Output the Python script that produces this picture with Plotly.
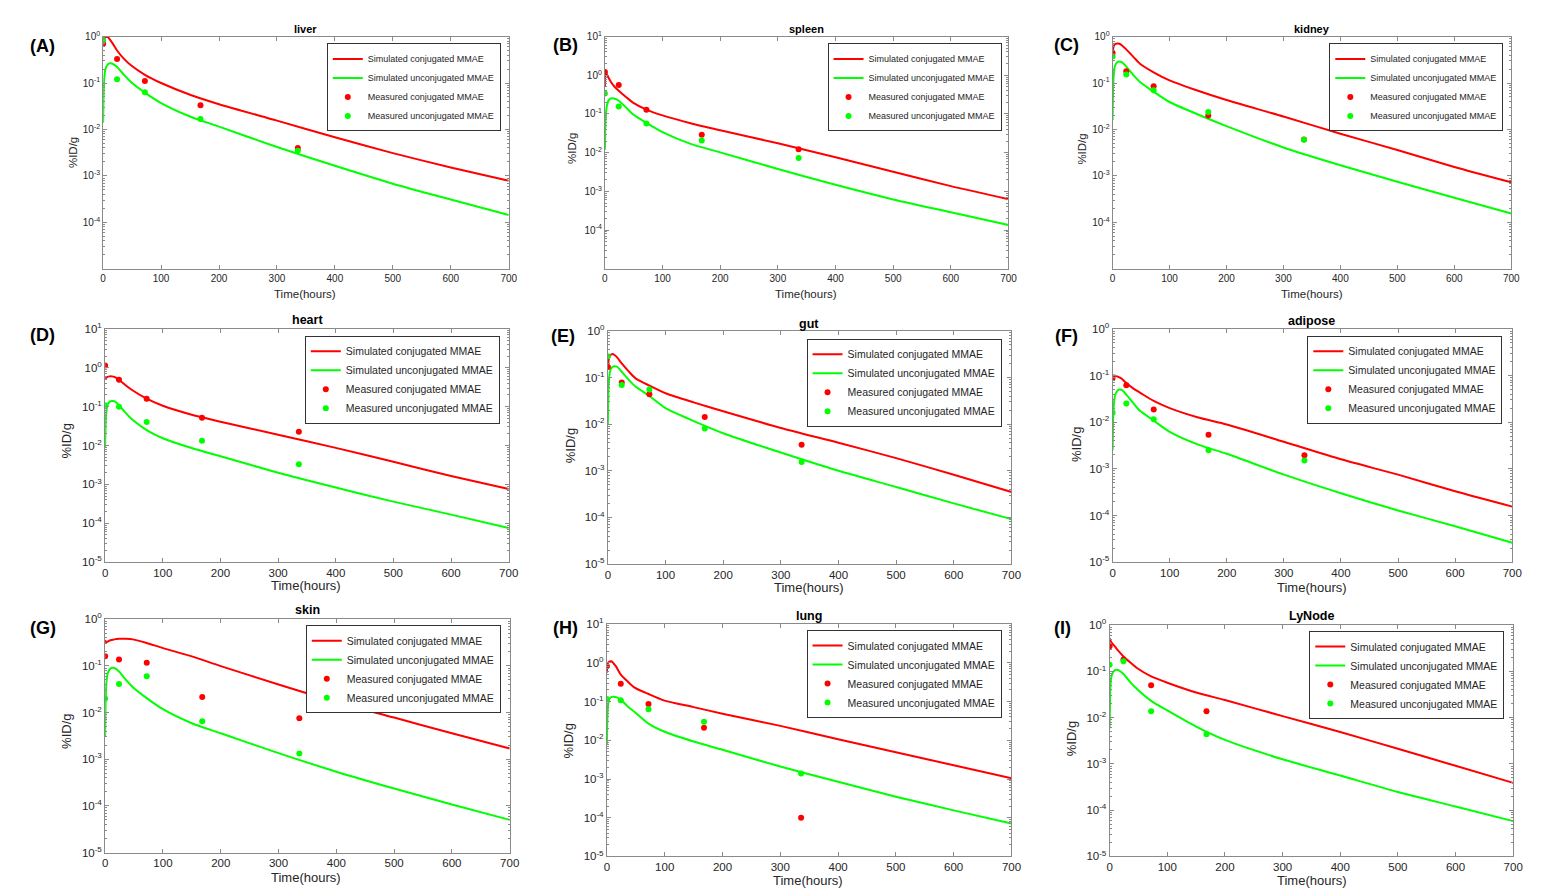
import plotly.graph_objects as go

# ---------------- data ----------------
T_SIM = [0, 1, 2, 4, 8, 12, 16, 24, 36, 48, 72, 100, 150, 200, 300, 400, 500, 600, 700]
T_MEAS = [0, 24, 72, 168, 336]
T_MEAS_LYNODE = [0, 24, 72, 168]

tissues = ["liver", "spleen", "kidney", "heart", "gut", "adipose", "skin", "lung", "LyNode"]
letters = ["(A)", "(B)", "(C)", "(D)", "(E)", "(F)", "(G)", "(H)", "(I)"]

liver_sim_conj = [0.85, 0.92, 0.96, 0.98, 0.97, 0.85, 0.72, 0.50, 0.33, 0.24, 0.15, 0.10, 0.056, 0.035, 0.0155, 0.0068, 0.0031, 0.00152, 0.00079]
liver_sim_unconj = [0.014, 0.07, 0.13, 0.20, 0.25, 0.265, 0.26, 0.22, 0.15, 0.105, 0.062, 0.037, 0.019, 0.0115, 0.0042, 0.00165, 0.00068, 0.00031, 0.000144]
liver_meas_conj = [0.70, 0.33, 0.11, 0.033, 0.0040]
liver_meas_unconj = [0.84, 0.12, 0.063, 0.0167, 0.0035]

spleen_sim_conj = [0.5, 1.3, 1.15, 1.0, 0.78, 0.62, 0.52, 0.40, 0.28, 0.20, 0.13, 0.092, 0.057, 0.038, 0.0175, 0.0076, 0.0032, 0.00137, 0.00063]
spleen_sim_unconj = [0.012, 0.06, 0.11, 0.18, 0.24, 0.255, 0.25, 0.22, 0.15, 0.10, 0.059, 0.034, 0.0166, 0.0102, 0.0038, 0.00148, 0.00062, 0.00029, 0.000135]
spleen_meas_conj = [1.22, 0.56, 0.129, 0.029, 0.0122]
spleen_meas_unconj = [0.34, 0.157, 0.057, 0.0206, 0.0073]

kidney_sim_conj = [0.45, 0.55, 0.62, 0.68, 0.71, 0.70, 0.65, 0.53, 0.37, 0.26, 0.17, 0.114, 0.068, 0.043, 0.019, 0.0081, 0.0036, 0.00156, 0.00073]
kidney_sim_unconj = [0.016, 0.08, 0.15, 0.23, 0.28, 0.29, 0.28, 0.225, 0.15, 0.105, 0.065, 0.039, 0.021, 0.0118, 0.0041, 0.0017, 0.00075, 0.00034, 0.000155]
kidney_meas_conj = [0.44, 0.18, 0.085, 0.020, 0.0061]
kidney_meas_unconj = [0.37, 0.153, 0.070, 0.0237, 0.0060]

heart_sim_conj = [0.52, 0.53, 0.55, 0.58, 0.60, 0.60, 0.58, 0.49, 0.35, 0.26, 0.16, 0.105, 0.062, 0.041, 0.0189, 0.0087, 0.0038, 0.00165, 0.00076]
heart_sim_unconj = [0.0086, 0.04, 0.07, 0.11, 0.135, 0.14, 0.138, 0.109, 0.068, 0.045, 0.025, 0.0154, 0.0086, 0.0053, 0.0020, 0.00083, 0.00036, 0.000167, 0.000076]
heart_meas_conj = [1.15, 0.49, 0.16, 0.052, 0.0225]
heart_meas_unconj = [0.109, 0.10, 0.040, 0.0133, 0.0033]

gut_sim_conj = [0.155, 0.22, 0.27, 0.30, 0.32, 0.30, 0.27, 0.20, 0.135, 0.096, 0.067, 0.046, 0.029, 0.0189, 0.0083, 0.0040, 0.00187, 0.00082, 0.00035]
gut_sim_unconj = [0.0098, 0.05, 0.09, 0.14, 0.17, 0.175, 0.17, 0.133, 0.09, 0.064, 0.040, 0.022, 0.0115, 0.0064, 0.00246, 0.0010, 0.00045, 0.0002, 0.000092]
gut_meas_conj = [0.167, 0.078, 0.044, 0.0143, 0.0036]
gut_meas_unconj = [0.286, 0.069, 0.055, 0.0081, 0.00154]

adipose_sim_conj = [0.10, 0.10, 0.10, 0.099, 0.096, 0.091, 0.085, 0.069, 0.053, 0.043, 0.0285, 0.020, 0.0126, 0.0089, 0.0038, 0.0016, 0.00075, 0.00033, 0.000155]
adipose_sim_unconj = [0.0025, 0.012, 0.022, 0.036, 0.047, 0.050, 0.049, 0.039, 0.026, 0.0175, 0.0108, 0.0062, 0.0033, 0.0021, 0.00075, 0.0003, 0.000128, 0.000059, 0.000026]
adipose_meas_conj = [0.088, 0.062, 0.0187, 0.0054, 0.00195]
adipose_meas_unconj = [0.0159, 0.025, 0.0115, 0.0025, 0.0015]

skin_sim_conj = [0.36, 0.33, 0.32, 0.33, 0.35, 0.36, 0.37, 0.38, 0.38, 0.37, 0.31, 0.24, 0.16, 0.099, 0.040, 0.0168, 0.0078, 0.0036, 0.0017]
skin_sim_unconj = [0.0031, 0.02, 0.04, 0.065, 0.085, 0.091, 0.09, 0.076, 0.05, 0.035, 0.0204, 0.0118, 0.0059, 0.0036, 0.00135, 0.00054, 0.000235, 0.000107, 0.00005]
skin_meas_conj = [0.16, 0.137, 0.117, 0.0214, 0.0075]
skin_meas_unconj = [0.020, 0.041, 0.060, 0.0065, 0.00133]

lung_sim_conj = [0.56, 0.9, 1.0, 1.08, 1.1, 0.95, 0.8, 0.50, 0.33, 0.23, 0.157, 0.106, 0.072, 0.0486, 0.0236, 0.0106, 0.0049, 0.00227, 0.00105]
lung_sim_unconj = [0.0076, 0.045, 0.08, 0.115, 0.132, 0.134, 0.13, 0.112, 0.075, 0.054, 0.027, 0.0166, 0.0093, 0.0057, 0.0021, 0.00085, 0.00035, 0.000155, 0.000071]
lung_meas_conj = [0.82, 0.287, 0.087, 0.021, 0.0001]
lung_meas_unconj = [0.117, 0.108, 0.063, 0.030, 0.00139]

lynode_sim_conj = [0.52, 0.48, 0.45, 0.41, 0.36, 0.31, 0.27, 0.21, 0.155, 0.117, 0.078, 0.057, 0.035, 0.024, 0.0108, 0.0049, 0.00212, 0.00091, 0.00039]
lynode_sim_unconj = [0.0058, 0.035, 0.06, 0.085, 0.103, 0.108, 0.105, 0.088, 0.058, 0.041, 0.023, 0.0143, 0.0064, 0.0033, 0.00126, 0.00056, 0.000247, 0.00012, 0.000058]
lynode_meas_conj = [0.35, 0.18, 0.05, 0.0138]
lynode_meas_unconj = [0.14, 0.165, 0.0138, 0.0044]

series = [
    (liver_sim_conj, liver_sim_unconj, T_MEAS, liver_meas_conj, liver_meas_unconj),
    (spleen_sim_conj, spleen_sim_unconj, T_MEAS, spleen_meas_conj, spleen_meas_unconj),
    (kidney_sim_conj, kidney_sim_unconj, T_MEAS, kidney_meas_conj, kidney_meas_unconj),
    (heart_sim_conj, heart_sim_unconj, T_MEAS, heart_meas_conj, heart_meas_unconj),
    (gut_sim_conj, gut_sim_unconj, T_MEAS, gut_meas_conj, gut_meas_unconj),
    (adipose_sim_conj, adipose_sim_unconj, T_MEAS, adipose_meas_conj, adipose_meas_unconj),
    (skin_sim_conj, skin_sim_unconj, T_MEAS, skin_meas_conj, skin_meas_unconj),
    (lung_sim_conj, lung_sim_unconj, T_MEAS, lung_meas_conj, lung_meas_unconj),
    (lynode_sim_conj, lynode_sim_unconj, T_MEAS_LYNODE, lynode_meas_conj, lynode_meas_unconj),
]

X_TICKS = [0, 100, 200, 300, 400, 500, 600, 700]

# ---------------- layout / style (pixel geometry of each panel) ----------------
W, H = 1549, 890
FONT = "Arial, Liberation Sans, sans-serif"
RED = "#FF0000"
GREEN = "#00FF00"
AXC = "#8a8a8a"
TXT = "#262626"

# box = (left, top, right, bottom) px ; ytop = top decade ; ylab = labelled decades
panels = [
    dict(box=(101, 29, 510, 265), ytop=0, ylab=[0, -1, -2, -3, -4], fs=10, lfs=9, leg=(502, 36),
         title=(305, 21), letter=(40, 39), xt=(305, 291), yt=(70, 147)),
    dict(box=(607, 29, 1014, 265), ytop=1, ylab=[1, 0, -1, -2, -3, -4], fs=10, lfs=9, leg=(1007, 36),
         title=(810, 21), letter=(567, 38), xt=(810, 291), yt=(574, 143)),
    dict(box=(1119, 29, 1521, 265), ytop=0, ylab=[0, -1, -2, -3, -4], fs=10, lfs=9, leg=(1513, 36),
         title=(1320, 21), letter=(1073, 38), xt=(1320, 291), yt=(1088, 143)),
    dict(box=(103, 326, 510, 563), ytop=1, ylab=[1, 0, -1, -2, -3, -4, -5], fs=11.5, lfs=10.5, leg=(501, 333),
         title=(307, 317), letter=(40, 332), xt=(306, 587), yt=(64, 440)),
    dict(box=(610, 328, 1017, 565), ytop=0, ylab=[0, -1, -2, -3, -4, -5], fs=11.5, lfs=10.5, leg=(1007, 336),
         title=(813, 321), letter=(565, 333), xt=(813, 589), yt=(572, 445)),
    dict(box=(1119, 326, 1522, 563), ytop=0, ylab=[0, -1, -2, -3, -4, -5], fs=11.5, lfs=10.5, leg=(1512, 333),
         title=(1320, 318), letter=(1073, 333), xt=(1320, 589), yt=(1082, 443)),
    dict(box=(103, 621, 511, 858), ytop=0, ylab=[0, -1, -2, -3, -4, -5], fs=11.5, lfs=10.5, leg=(502, 627),
         title=(307, 612), letter=(40, 630), xt=(306, 883), yt=(64, 735)),
    dict(box=(609, 626, 1017, 862), ytop=1, ylab=[1, 0, -1, -2, -3, -4, -5], fs=11.5, lfs=10.5, leg=(1007, 632),
         title=(813, 618), letter=(567, 630), xt=(812, 886), yt=(570, 745)),
    dict(box=(1116, 627, 1523, 862), ytop=0, ylab=[0, -1, -2, -3, -4, -5], fs=11.5, lfs=10.5, leg=(1514, 633),
         title=(1320, 618), letter=(1068, 630), xt=(1320, 886), yt=(1077, 742)),
]


def fx(x):
    return x / W


def fy(y):
    return 1 - y / H


fig = go.Figure()
layout = dict(
    width=W, height=H, autosize=False,
    margin=dict(l=0, r=0, t=0, b=0),
    paper_bgcolor="white", plot_bgcolor="white",
    font=dict(family=FONT, color=TXT),
    showlegend=True,
)
annotations = []

for i, (p, (sc, su, tm, mc, mu)) in enumerate(zip(panels, series)):
    n = "" if i == 0 else str(i + 1)
    xa, ya, lg = "x" + n, "y" + n, "legend" + n
    l, t, r, b = p["box"]

    fig.add_trace(go.Scatter(x=T_SIM, y=sc, mode="lines",
                             line=dict(color=RED, width=2, shape="spline", smoothing=0.7),
                             name="Simulated conjugated MMAE", xaxis=xa, yaxis=ya, legend=lg))
    fig.add_trace(go.Scatter(x=T_SIM, y=su, mode="lines",
                             line=dict(color=GREEN, width=2, shape="spline", smoothing=0.7),
                             name="Simulated unconjugated MMAE", xaxis=xa, yaxis=ya, legend=lg))
    fig.add_trace(go.Scatter(x=tm, y=mc, mode="markers", marker=dict(color=RED, size=6),
                             name="Measured conjugated MMAE", xaxis=xa, yaxis=ya, legend=lg))
    fig.add_trace(go.Scatter(x=tm, y=mu, mode="markers", marker=dict(color=GREEN, size=6),
                             name="Measured unconjugated MMAE", xaxis=xa, yaxis=ya, legend=lg))

    fs = p["fs"]
    layout["xaxis" + n] = dict(
        domain=[fx(l), fx(r)], anchor=ya, range=[0, 700],
        tickmode="array", tickvals=X_TICKS, ticks="inside", ticklen=4, tickcolor=AXC,
        showline=True, linecolor=AXC, linewidth=1, mirror="ticks",
        showgrid=False, zeroline=False, tickfont=dict(size=fs, color=TXT),
    )
    ytop = p["ytop"]
    minor_vals = [m * 10.0 ** e for e in range(-5, ytop) for m in range(2, 10)]
    layout["yaxis" + n] = dict(
        domain=[fy(b), fy(t)], anchor=xa, type="log", range=[-5, ytop],
        tickmode="array", tickvals=[10.0 ** e for e in p["ylab"]],
        ticktext=["10<sup>%d</sup>" % e for e in p["ylab"]],
        ticks="inside", ticklen=4, tickcolor=AXC,
        minor=dict(tickmode="array", tickvals=minor_vals, ticks="inside", ticklen=2, tickcolor=AXC, showgrid=False),
        showline=True, linecolor=AXC, linewidth=1, mirror="ticks",
        showgrid=False, zeroline=False, tickfont=dict(size=fs, color=TXT),
    )
    lx, ly = p["leg"]
    layout[lg] = dict(
        x=fx(lx), y=fy(ly), xanchor="right", yanchor="top", xref="paper", yref="paper",
        bgcolor="white", bordercolor="#333333", borderwidth=1,
        font=dict(size=p["lfs"], family=FONT, color=TXT), tracegroupgap=0,
    )

    tx, ty = p["title"]
    annotations.append(dict(text="<b>%s</b>" % tissues[i], x=fx(tx), y=fy(ty), xref="paper", yref="paper",
                            showarrow=False, xanchor="center", yanchor="middle",
                            font=dict(size=fs + 1, color="#000000")))
    lx2, ly2 = p["letter"]
    annotations.append(dict(text="<b>%s</b>" % letters[i], x=fx(lx2), y=fy(ly2), xref="paper", yref="paper",
                            showarrow=False, xanchor="center", yanchor="middle",
                            font=dict(size=18, color="#000000")))
    xtx, xty = p["xt"]
    annotations.append(dict(text="Time(hours)", x=fx(xtx), y=fy(xty), xref="paper", yref="paper",
                            showarrow=False, xanchor="center", yanchor="middle",
                            font=dict(size=fs + 1.5, color=TXT)))
    ytx, yty = p["yt"]
    annotations.append(dict(text="%ID/g", x=fx(ytx), y=fy(yty), xref="paper", yref="paper",
                            showarrow=False, xanchor="center", yanchor="middle", textangle=-90,
                            font=dict(size=fs + 1.5, color=TXT)))

layout["annotations"] = annotations
fig.update_layout(**layout)

fig.write_html("out.html", config=dict(displayModeBar=False),
               post_script="document.body.style.margin='0';")
